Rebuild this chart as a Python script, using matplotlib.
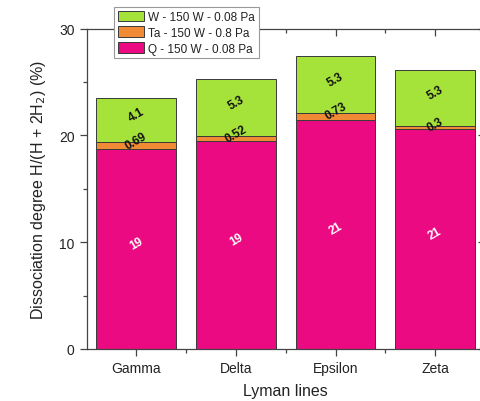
import matplotlib
matplotlib.use("Agg")
import matplotlib.pyplot as plt
from matplotlib.ticker import MultipleLocator, FixedLocator
import numpy as np

plt.rcParams['font.family'] = ['Liberation Sans', 'DejaVu Sans']

categories = ["Gamma", "Delta", "Epsilon", "Zeta"]
q_vals = [18.7, 19.45, 21.4, 20.55]
ta_vals = [0.69, 0.52, 0.73, 0.3]
w_vals = [4.1, 5.3, 5.3, 5.3]
q_labels = ["19", "19", "21", "21"]
ta_labels = ["0.69", "0.52", "0.73", "0.3"]
w_labels = ["4.1", "5.3", "5.3", "5.3"]
series_names = ["Q - 150 W - 0.08 Pa", "Ta - 150 W - 0.8 Pa", "W - 150 W - 0.08 Pa"]

c_q = "#EC0A82"
c_ta = "#F08A34"
c_w = "#A6E33A"
edge = "#3a3a3a"

W, H = 481, 402
fig = plt.figure(figsize=(W/100, H/100), dpi=100)
left, right, bottom, top = 86.5, 485, 350, 29.5
ax = fig.add_axes([left/W, 1-bottom/H, (right-left)/W, (bottom-top)/H])

x = np.arange(1, len(categories)+1)
q = np.array(q_vals); ta = np.array(ta_vals); w = np.array(w_vals)
bw = 0.8
b1 = ax.bar(x, q, bw, color=c_q, edgecolor=edge, linewidth=0.7, label=series_names[0])
b2 = ax.bar(x, ta, bw, bottom=q, color=c_ta, edgecolor=edge, linewidth=0.7, label=series_names[1])
b3 = ax.bar(x, w, bw, bottom=q+ta, color=c_w, edgecolor=edge, linewidth=0.7, label=series_names[2])

for i in range(len(x)):
    ax.text(x[i], q[i]/2 + 0.6, q_labels[i], rotation=30, ha='center', va='center',
            color='white', fontsize=8.5, fontweight='bold')
    ax.text(x[i], q[i] + ta[i] + 0.15, ta_labels[i], rotation=30, ha='center', va='center',
            color='#111111', fontsize=8.5, fontweight='bold')
    ax.text(x[i], q[i] + ta[i] + w[i]/2 + 0.5, w_labels[i], rotation=30, ha='center', va='center',
            color='#111111', fontsize=8.5, fontweight='bold')

ax.set_xlim(0.5, 4.5)
ax.set_ylim(0, 30)
ax.set_xticks(x)
ax.set_xticklabels(categories)
ax.xaxis.set_minor_locator(FixedLocator([1.5, 2.5, 3.5]))
ax.yaxis.set_major_locator(MultipleLocator(10))
ax.yaxis.set_minor_locator(MultipleLocator(5))

spine_c = "#444444"
for s in ax.spines.values():
    s.set_color(spine_c)
    s.set_linewidth(0.9)
ax.tick_params(axis='both', which='major', length=5, width=0.9, color=spine_c,
               labelsize=10, labelcolor='#222222', direction='out')
ax.tick_params(axis='both', which='minor', length=3, width=0.9, color=spine_c, direction='out')
ax.tick_params(axis='x', which='both', top=True, direction='out')
ax.tick_params(axis='y', which='both', right=True)
# top / right ticks point inward
for tk in ax.xaxis.get_major_ticks() + ax.xaxis.get_minor_ticks():
    tk.tick2line.set_marker(3)  # TICKDOWN
for tk in ax.yaxis.get_major_ticks() + ax.yaxis.get_minor_ticks():
    tk.tick2line.set_marker(0)  # TICKLEFT

ax.set_xlabel("Lyman lines", fontsize=11.5, color='#222222', labelpad=6)
ax.set_ylabel("Dissociation degree H/(H + 2H$_2$) (%)", fontsize=11.5, color='#222222', labelpad=8)

handles = [b3, b2, b1]
leg = fig.legend(handles, [series_names[2], series_names[1], series_names[0]],
                 loc='upper left', bbox_to_anchor=(114/W, 1-8/H), bbox_transform=fig.transFigure,
                 borderaxespad=0, fontsize=8.5, handlelength=2.2, handleheight=1.0,
                 labelspacing=0.3, handletextpad=0.4, borderpad=0.3, fancybox=False,
                 framealpha=1, edgecolor='#999999')
leg.get_frame().set_linewidth(0.8)
for t in leg.get_texts():
    t.set_color('#222222')

fig.savefig("out.png", dpi=100)
